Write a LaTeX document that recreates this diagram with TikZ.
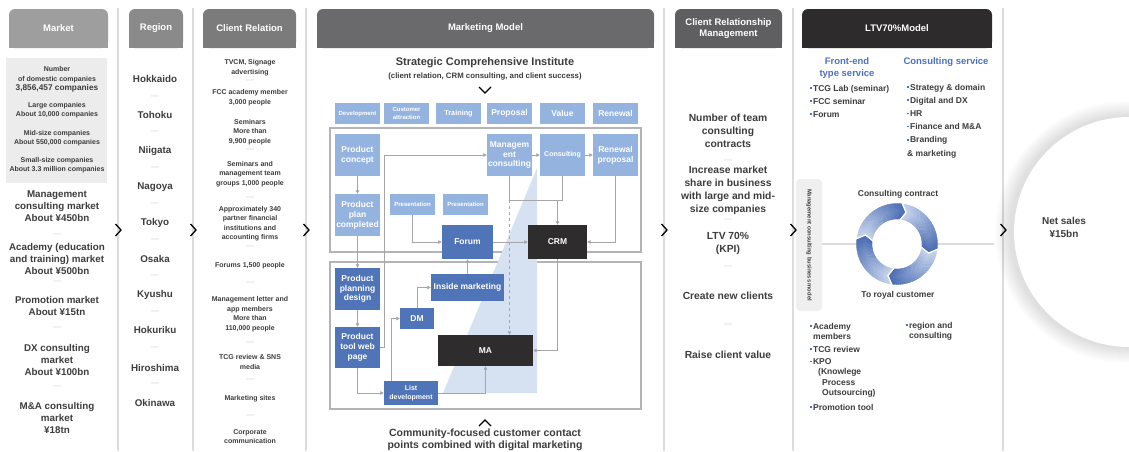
\documentclass[tikz,border=0pt]{standalone}
\usepackage{fontspec}
\setmainfont{Liberation Sans}
\usetikzlibrary{arrows.meta}
\definecolor{tc}{HTML}{3D3D3D}
\definecolor{dc}{HTML}{CFCFCF}
\definecolor{lb}{HTML}{95B3DF}
\definecolor{db}{HTML}{4F74B8}
\definecolor{kb}{HTML}{2E2C2D}
\definecolor{tri}{HTML}{D6E2F2}
\definecolor{cg}{HTML}{A6A6A6}
\definecolor{fr}{HTML}{B4B4B4}
\definecolor{sc}{HTML}{DCDCDC}
\definecolor{mb}{HTML}{ECECEC}
\definecolor{bt}{HTML}{4A72C4}
\definecolor{rd}{HTML}{4A6CB4}
\definecolor{rl}{HTML}{C5D3EB}
\definecolor{vb}{HTML}{EFEFEF}
\definecolor{hA}{HTML}{9E9E9E}
\definecolor{hB}{HTML}{8A8A8A}
\definecolor{hC}{HTML}{7B7B7B}
\definecolor{hD}{HTML}{6A6A6C}
\definecolor{hE}{HTML}{5F5F61}
\definecolor{hF}{HTML}{2D2B2C}
\newcommand\myfs[2]{\fontsize{#1}{#2}\selectfont\bfseries}
\newcommand\bul{{\color{bt}\rule[2.3pt]{1.7pt}{1.7pt}}\hspace{1.2pt}}
\begin{document}
\begin{tikzpicture}[x=1pt,y=-1pt,
 tx/.style={inner sep=0pt, text=tc, align=center},
 dsh/.style={inner sep=0pt, text=dc, font=\fontsize{8}{8}\selectfont},
 hdr/.style={rounded corners=6pt, inner sep=0pt, text=white, align=center, font=\myfs{9.5}{11}, minimum height=39pt},
 bx/.style={inner sep=0pt, text=white, align=center, font=\myfs{8.5}{9.8}},
 lbox/.style={bx, fill=lb},
 dbox/.style={bx, fill=db},
 kbox/.style={bx, fill=kb},
 gl/.style={draw=cg, line width=0.9pt},
 conn/.style={gl, -{Triangle[length=3.5pt,width=3.5pt]}},
 sepl/.style={draw=sc, line width=1.6pt},
 chev/.style={draw=black, line width=1.3pt},
]
\useasboundingbox (0,0) rectangle (1129,451);
\fill[white] (0,0) rectangle (1129,451);

% separators
\foreach \sx in {118,193,306,664,793,1003}{
  \draw[sepl] (\sx,8) -- (\sx,451);
}

% headers
\fill[hA] (9,30) rectangle (108,48);
\node[hdr, fill=hA, minimum width=99pt] (hMarket) at (58.5,28.5) {Market};
\fill[hB] (129,30) rectangle (183,48);
\node[hdr, fill=hB, minimum width=54pt] (hRegion) at (156,28.5) {Region};
\fill[hC] (203,30) rectangle (296,48);
\node[hdr, fill=hC, minimum width=93pt] (hClient) at (249.5,28.5) {Client Relation};
\fill[hD] (317,30) rectangle (654,48);
\node[hdr, fill=hD, minimum width=337pt] (hMM) at (485.5,28.5) {Marketing Model};
\fill[hE] (675,30) rectangle (782,48);
\node[hdr, fill=hE, minimum width=107pt] (hCRM) at (728.5,28.5) {Client Relationship\\Management};
\fill[hF] (802,30) rectangle (992,48);
\node[hdr, fill=hF, minimum width=190pt] (hLTV) at (897,28.5) {LTV70\%Model};

% ---------- Market ----------
\fill[mb] (6,58) rectangle (107,183);
\node[tx, font=\myfs{7}{9.5}] (m0) at (57,79.5) {Number\\of domestic companies\\{\myfs{8.3}{9.5}3,856,457 companies}};
\node[tx, font=\myfs{7}{9.5}] (m1) at (57,110) {Large companies\\About 10,000 companies};
\node[tx, font=\myfs{7}{9.5}] (m2) at (57,138) {Mid-size companies\\About 550,000 companies};
\node[tx, font=\myfs{7}{9.5}] (m3) at (57,165) {Small-size companies\\About 3.3 million companies};
\node[tx, font=\myfs{9.8}{12}] (m4) at (57,206) {Management\\consulting market\\About ¥450bn};
\node[dsh] (md1) at (57,235) {—};
\node[tx, font=\myfs{9.8}{12}] (m5) at (57,259) {Academy (education\\and training) market\\About ¥500bn};
\node[dsh] (md2) at (57,282) {—};
\node[tx, font=\myfs{9.8}{12}] (m6) at (57,305.5) {Promotion market\\About ¥15tn};
\node[dsh] (md3) at (57,328) {—};
\node[tx, font=\myfs{9.8}{12}] (m7) at (57,360) {DX consulting\\market\\About ¥100bn};
\node[dsh] (md4) at (57,387) {—};
\node[tx, font=\myfs{9.8}{12}] (m8) at (57,418) {M\&A consulting\\market\\¥18tn};

% ---------- Region ----------
\foreach \nm/\yy in {Hokkaido/79,Tohoku/115,Niigata/151,Nagoya/187,Tokyo/223,Osaka/259,Kyushu/295,Hokuriku/330,Hiroshima/368,Okinawa/403}{
  \node[tx, font=\myfs{9.8}{12}] (r\nm) at (155,\yy) {\nm};
}
\foreach \yy [count=\k] in {97,132,168,204,240,276,312,348,384}{
  \node[dsh] (rd\k) at (155,\yy) {—};
}

% ---------- Client Relation ----------
\begin{scope}[every node/.style={tx, font=\myfs{7}{9.5}}]
\node (c1) at (250,67.5) {TVCM, Signage\\advertising};
\node[dsh] (cd1) at (250,81) {—};
\node (c2) at (250,97.5) {FCC academy member\\3,000 people};
\node (c3) at (250,132) {Seminars\\More than\\9,900 people};
\node[dsh] (cd2) at (250,150) {—};
\node (c4) at (250,174) {Seminars and\\management team\\groups 1,000 people};
\node[dsh] (cd3) at (250,198) {—};
\node (c5) at (250,223.5) {Approximately 340\\partner financial\\institutions and\\accounting firms};
\node[dsh] (cd4) at (250,247) {—};
\node (c6) at (250,266) {Forums 1,500 people};
\node[dsh] (cd5) at (250,283) {—};
\node (c7) at (250,314) {Management letter and\\app members\\More than\\110,000 people};
\node[dsh] (cd6) at (250,343) {—};
\node (c8) at (250,362) {TCG review \& SNS\\media};
\node[dsh] (cd7) at (250,380) {—};
\node (c9) at (250,399) {Marketing sites};
\node[dsh] (cd8) at (250,416) {—};
\node (c10) at (250,436.5) {Corporate\\communication};
\end{scope}

% ---------- Marketing Model ----------
\node[tx, font=\myfs{11}{13}] (sci) at (485,63) {Strategic Comprehensive Institute};
\node[tx, font=\myfs{7.8}{9}] (scis) at (485,76) {(client relation, CRM consulting, and client success)};
\draw[chev] (479,87) -- (485,93) -- (491,87);

\node[lbox, minimum width=45pt, minimum height=21pt, font=\myfs{6}{7}] (t1) at (357.5,113.5) {Development};
\node[lbox, minimum width=45pt, minimum height=21pt, font=\myfs{6}{7.5}] (t2) at (406.5,113.5) {Customer\\attraction};
\node[lbox, minimum width=45pt, minimum height=21pt, font=\myfs{7.3}{8}] (t3) at (458.5,113.5) {Training};
\node[lbox, minimum width=45pt, minimum height=21pt] (t4) at (509.5,113.5) {Proposal};
\node[lbox, minimum width=45pt, minimum height=21pt] (t5) at (562.5,113.5) {Value};
\node[lbox, minimum width=45pt, minimum height=21pt] (t6) at (615.5,113.5) {Renewal};

\draw[fr, line width=1.1pt] (330,128) rectangle (641,252);
\draw[fr, line width=1.1pt] (330,262) rectangle (641,409);
\fill[tri] (537,168) -- (537,393) -- (443,393) -- cycle;

\node[lbox, minimum width=45pt, minimum height=42pt] (pc) at (357.5,155) {Product\\concept};
\node[lbox, minimum width=45pt, minimum height=42pt] (mc) at (509.5,155) {Managem\\ent\\consulting};
\node[lbox, minimum width=45pt, minimum height=42pt, font=\myfs{7}{8}] (cons) at (562.5,155) {Consulting};
\node[lbox, minimum width=45pt, minimum height=42pt] (rp) at (615.5,155) {Renewal\\proposal};
\node[lbox, minimum width=45pt, minimum height=42pt] (ppc) at (357.5,215) {Product\\plan\\completed};
\node[lbox, minimum width=45pt, minimum height=21pt, font=\myfs{6}{7}] (pr1) at (412.5,204.5) {Presentation};
\node[lbox, minimum width=45pt, minimum height=21pt, font=\myfs{6}{7}] (pr2) at (465.5,204.5) {Presentation};

\coordinate (J) at (557.5,200);
\draw[gl] (mc.south) |- (cons.south |- J) -- (cons.south);

\node[dbox, minimum width=51pt, minimum height=34pt] (forum) at (467.5,242) {Forum};
\node[kbox, minimum width=59pt, minimum height=34pt] (crm) at (557.5,242) {CRM};
\node[dbox, minimum width=45pt, minimum height=42pt] (ppd) at (357.5,289) {Product\\planning\\design};
\node[dbox, minimum width=73pt, minimum height=27pt] (im) at (467.5,287.5) {Inside marketing};
\node[dbox, minimum width=34pt, minimum height=21pt] (dm) at (417,318.5) {DM};
\node[dbox, minimum width=45pt, minimum height=41pt] (ptw) at (357.5,347.5) {Product\\tool web\\page};
\node[kbox, minimum width=95pt, minimum height=31pt] (ma) at (485.5,350.5) {MA};
\node[dbox, minimum width=54pt, minimum height=24pt, font=\myfs{7}{8.5}] (ld) at (411,393) {List\\development};

\draw[conn] (pc) -- (ppc);
\draw[conn] (ppc) -- (ppd);
\draw[conn] (ppd) -- (ptw);
\draw[conn] (ptw.east) -- ++(4,0) |- (mc.west);
\draw[conn] (mc) -- (cons);
\draw[conn] (cons) -- (rp);
\draw[conn] (J) -- (crm.north);
\draw[conn] (rp.south) |- (crm.east);
\draw[conn] (pr1.south) |- (forum.west);
\draw[conn] (forum) -- (crm);
\draw[conn] (im.north) -- (forum.south);
\draw[conn] (dm.north) |- (im.west);
\draw[conn] ([xshift=-20pt]ld.north) |- (dm.west);
\draw[conn] (ptw.south) |- (ld.west);
\draw[conn] (ld.east) -| (ma.south);
\draw[conn] (crm.south) |- (ma.east);
\draw[conn, dashed] (mc.south |- J) -- (mc.south |- ma.north);

\draw[chev] (479,426) -- (485,420) -- (491,426);
\node[tx, font=\myfs{10.5}{12}] (cf) at (485,439.5) {Community-focused customer contact\\points combined with digital marketing};

% ---------- Client Relationship Management ----------
\begin{scope}[every node/.style={tx, font=\myfs{10.3}{13}}]
\node (k1) at (728,131) {Number of team\\consulting\\contracts};
\node[dsh] (kd1) at (728,161) {—};
\node (k2) at (728,190) {Increase market\\share in business\\with large and mid-\\size companies};
\node[dsh] (kd2) at (728,220) {—};
\node (k3) at (728,243) {LTV 70\%\\(KPI)};
\node[dsh] (kd3) at (728,267) {—};
\node (k4) at (728,296) {Create new clients};
\node[dsh] (kd4) at (728,325) {—};
\node (k5) at (728,355) {Raise client value};
\end{scope}

% ---------- LTV70% Model ----------
\node[tx, text=bt, font=\myfs{9.5}{12}] (fe) at (847,68) {Front-end\\type service};
\node[tx, text=bt, font=\myfs{9.5}{12}] (cs) at (946,62) {Consulting service};
\node[tx, align=left, anchor=west, font=\myfs{8.5}{13}] (fl) at (810,101) {\bul TCG Lab (seminar)\\\bul FCC seminar\\\bul Forum};
\node[tx, align=left, anchor=west, font=\myfs{8.5}{13.2}] (cl) at (907,121) {\bul Strategy \& domain\\\bul Digital and DX\\\bul HR\\\bul Finance and M\&A\\\bul Branding\\\& marketing};

\node[rotate=-90, fill=vb, rounded corners=4pt, inner sep=0pt, minimum width=132pt, minimum height=26pt, text=tc, font=\myfs{5.8}{7}] (mcb) at (809,245) {Management consulting business model};
\draw[draw=sc, line width=1.4pt] (822,244) -- (994,244);

\def\rcx{897}\def\rcy{244}\def\ro{40.5}\def\ri{25}\def\rm{32.75}
\fill[white] (\rcx,\rcy) circle (\ri);
\foreach \s in {-173,-83,7,97}{
  \foreach \i in {0,...,29}{
    \pgfmathsetmacro\a{\s+3*\i}
    \pgfmathsetmacro\b{\s+3*\i+3}
    \pgfmathtruncatemacro\p{100*\i/29}
    \filldraw[fill=rd!\p!rl, draw=rd!\p!rl, line width=0.25pt, shift={(\rcx,\rcy)}]
      (\a:\ro) -- ({\a+9}:\rm) -- (\a:\ri) -- (\b:\ri) -- ({\b+9}:\rm) -- (\b:\ro) -- cycle;
  }
}
\foreach \j in {-173,-83,7,97}{
  \draw[white, line width=1.3pt, shift={(\rcx,\rcy)}] (\j:41.5) -- ({\j+9}:\rm) -- (\j:24);
}
\node[tx, font=\myfs{8.5}{10}] (cc) at (898,194) {Consulting contract};
\node[tx, font=\myfs{8.5}{10}] (trc) at (898,295) {To royal customer};

\begin{scope}[every node/.style={tx, align=left, anchor=west, font=\myfs{8.5}{10.2}}]
\node (b1) at (810,331.5) {\bul Academy\\\hspace*{3pt}members};
\node (b2) at (810,349) {\bul TCG review};
\node (b3) at (810,378) {\bul KPO\\\hspace*{8pt}(Knowlege\\\hspace*{12pt}Process\\\hspace*{12pt}Outsourcing)};
\node (b4) at (810,407) {\bul Promotion tool};
\node (b5) at (906,331) {\bul region and\\\hspace*{3pt}consulting};
\end{scope}

% ---------- Net sales ----------
\foreach \k in {1,...,16}{
  \fill[black, opacity=0.007] (1126,232) circle ({115+\k});
}
\node[circle, fill=white, minimum size=230pt, inner sep=0pt] (ns) at (1129,232) {};
\node[tx, font=\myfs{10}{13}] (nst) at (1064,227) {Net sales\\¥15bn};

% column chevrons
\foreach \sx in {118,193,306,664,793,1003}{
  \draw[chev] ({\sx-2.5},224) -- ({\sx+3},230) -- ({\sx-2.5},236);
}
\end{tikzpicture}
\end{document}
